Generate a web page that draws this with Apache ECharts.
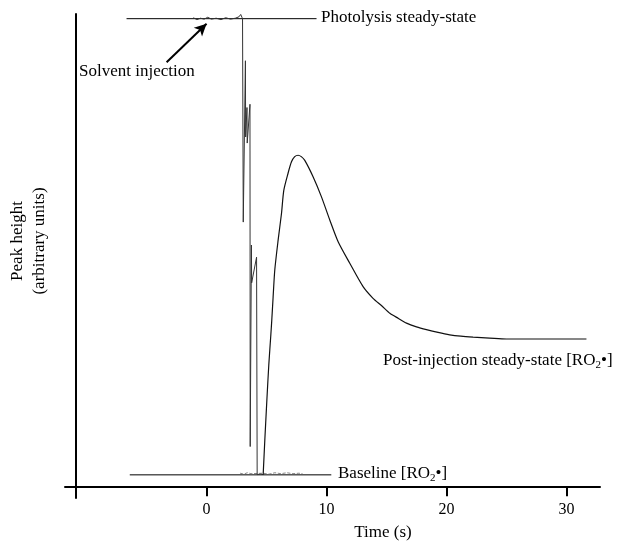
<!DOCTYPE html>
<html>
<head>
<meta charset="utf-8">
<script src="https://cdn.jsdelivr.net/npm/echarts@6/dist/echarts.min.js"></script>
<style>html,body{margin:0;padding:0;background:#fff;}#c{width:618px;height:542px;}</style>
</head>
<body>
<div id="c"></div>
<script>
// ---- data (time in s, peak height in arbitrary units) ----
const xTicks = [0, 10, 20, 30];
const photolysisTrace = [[-1.1,100.2],[-0.8,99.8],[-0.5,100.1],[-0.2,99.9],[0.1,100.3],[0.4,99.9],[0.8,100.1],[1.2,99.8],[1.6,100.2],[2.0,99.9],[2.4,100.1],[2.7,100.4],[2.85,100.9],[2.95,100.3],[3.0,100]];
const injectionSpikes = [[3.0,100],[3.05,100],[3.06,56.5],[3.24,91],[3.26,74.7],[3.37,81],[3.39,73.4],[3.62,81.7],[3.64,8.5],[3.74,51.6],[3.76,43.5],[4.17,49],[4.22,2.5],[4.5,2.6],[4.72,2.5]];
const recoveryTrace = [[4.72,2.5],[4.86,10.0],[5.03,18.5],[5.19,26.0],[5.36,32.4],[5.44,35.6],[5.55,40.5],[5.69,46.3],[5.97,52.7],[6.25,58.4],[6.44,63.3],[6.8,67.0],[7.08,69.4],[7.35,70.5],[7.63,70.8],[7.9,70.5],[8.19,69.7],[8.88,66.2],[9.58,61.9],[10.28,56.9],[10.97,52.3],[11.94,47.7],[13.05,42.7],[13.88,40.2],[14.6,38.6],[15.28,37.0],[16.0,35.9],[16.67,34.9],[17.5,34.1],[18.33,33.5],[19.3,32.9],[20.27,32.4],[21.2,32.1],[22.22,31.9],[23.6,31.7],[25.0,31.5],[26.4,31.5],[27.78,31.5],[29.7,31.5],[31.67,31.5]];
const baselineTrace = [[2.8,2.8],[3.1,2.6],[3.4,2.9],[3.7,2.7],[4.7,2.8],[5.2,2.6],[5.7,2.9],[6.2,2.7],[6.7,2.9],[7.2,2.7],[7.7,2.8],[8.0,2.7]];
const photolysisRef = [[-6.67,100],[9.17,100]];
const baselineRef = [[-6.4,2.45],[10.4,2.45]];
const arrowFrom = [-3.33, 90.7];
const arrowTo = [0, 98.9];

const F = 'Liberation Serif, Times New Roman, serif';
const chart = echarts.init(document.getElementById('c'));
const lineBase = {type:'line', showSymbol:false, symbol:'none', silent:true, animation:false};
chart.setOption({
  animation:false,
  grid:{left:65, right:18, top:14, bottom:44},
  xAxis:{
    type:'value', min:-11.8, max:32.8,
    axisLine:{onZero:true, lineStyle:{color:'#000', width:2}},
    axisTick:{show:true, customValues:xTicks, length:10, inside:false, lineStyle:{color:'#000', width:2}},
    axisLabel:{customValues:xTicks, color:'#000', fontFamily:F, fontSize:16, margin:4},
    splitLine:{show:false}
  },
  yAxis:{
    type:'value', min:-2.5, max:101, offset:-11,
    axisLine:{show:true, onZero:false, lineStyle:{color:'#000', width:2}},
    axisTick:{show:false}, axisLabel:{show:false}, splitLine:{show:false}
  },
  series:[
    Object.assign({}, lineBase, {data:photolysisRef, lineStyle:{color:'#000', width:1}}),
    Object.assign({}, lineBase, {data:baselineRef, lineStyle:{color:'#000', width:1}}),
    Object.assign({}, lineBase, {data:photolysisTrace, lineStyle:{color:'#333', width:1}}),
    Object.assign({}, lineBase, {data:baselineTrace, lineStyle:{color:'#666', width:0.8, type:'dashed'}}),
    Object.assign({}, lineBase, {data:injectionSpikes, lineStyle:{color:'#333', width:1}}),
    Object.assign({}, lineBase, {data:recoveryTrace, smooth:0.25, lineStyle:{color:'#111', width:1.2},
      markLine:{silent:true, symbol:['none','arrow'], symbolSize:[9,12], label:{show:false},
        lineStyle:{color:'#000', width:2, type:'solid'},
        data:[[{coord:arrowFrom},{coord:arrowTo}]]}})
  ],
  graphic:[
    {type:'text', x:321, y:18, style:{text:'Photolysis steady-state', font:'17px '+F, fill:'#000', textVerticalAlign:'middle'}},
    {type:'text', x:79, y:72, style:{text:'Solvent injection', font:'17px '+F, fill:'#000', textVerticalAlign:'middle'}},
    {type:'text', x:383, y:361, style:{text:'{a|Post-injection steady-state [RO}{s|2}{a|•]}', fill:'#000', textVerticalAlign:'middle',
      rich:{a:{fontFamily:F, fontSize:17, lineHeight:20}, s:{fontFamily:F, fontSize:11, verticalAlign:'bottom'}}}},
    {type:'text', x:338, y:474, style:{text:'{a|Baseline [RO}{s|2}{a|•]}', fill:'#000', textVerticalAlign:'middle',
      rich:{a:{fontFamily:F, fontSize:17, lineHeight:20}, s:{fontFamily:F, fontSize:11, verticalAlign:'bottom'}}}},
    {type:'text', x:383, y:533, style:{text:'Time (s)', font:'17px '+F, fill:'#000', textAlign:'center', textVerticalAlign:'middle'}},
    {type:'text', x:29, y:241, rotation:Math.PI/2, style:{text:'Peak height\n(arbitrary units)', font:'17px '+F, lineHeight:22, fill:'#000', textAlign:'center', textVerticalAlign:'middle'}}
  ]
});
</script>
</body>
</html>
